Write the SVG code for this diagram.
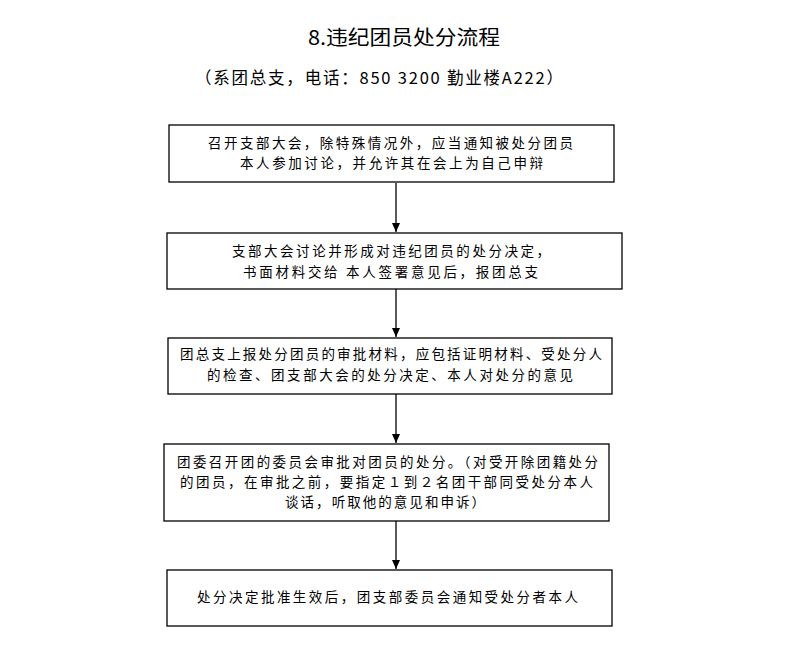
<svg xmlns="http://www.w3.org/2000/svg" width="793" height="646" viewBox="0 0 793 646">
<style>
.box{fill:#fff;stroke:#000;stroke-width:1.3}
.t{font-family:"Noto Sans CJK SC","Liberation Sans",sans-serif;font-size:13.5px;fill:#000}
.h{font-family:"Noto Sans CJK SC","Liberation Sans",sans-serif;fill:#000}
.c{stroke:#000;stroke-width:1.3;fill:none}
</style>
<defs>
<marker id="ah" markerWidth="10" markerHeight="10" refX="9" refY="4" orient="auto" markerUnits="userSpaceOnUse">
<path d="M0,0 L9,4 L0,8 Z" fill="#000"/>
</marker>
</defs>
<rect width="793" height="646" fill="#fff"/>
<g id="title">
<text class="h" x="308" y="45" font-size="20" textLength="192" lengthAdjust="spacingAndGlyphs">8.违纪团员处分流程</text>
<text class="h" x="195" y="84" font-size="16.5" textLength="368" lengthAdjust="spacing">（系团总支，电话：850 3200 勤业楼A222）</text>
</g>
<g id="connectors">
<line class="c" x1="396" y1="183" x2="396" y2="232" marker-end="url(#ah)"/>
<line class="c" x1="396" y1="289" x2="396" y2="337" marker-end="url(#ah)"/>
<line class="c" x1="396" y1="394" x2="396" y2="443" marker-end="url(#ah)"/>
<line class="c" x1="396" y1="521" x2="396" y2="569" marker-end="url(#ah)"/>
</g>
<g id="n1">
<rect class="box" x="169" y="125" width="445" height="57"/>
<text class="t" x="208" y="148" textLength="365" lengthAdjust="spacing">召开支部大会，除特殊情况外，应当通知被处分团员</text>
<text class="t" x="240" y="168" textLength="303" lengthAdjust="spacing">本人参加讨论，并允许其在会上为自己申辩</text>
</g>
<g id="n2">
<rect class="box" x="167" y="233" width="455" height="56"/>
<text class="t" x="232" y="256" textLength="318" lengthAdjust="spacing">支部大会讨论并形成对违纪团员的处分决定，</text>
<text class="t" x="243" y="277" textLength="295" lengthAdjust="spacing">书面材料交给 本人签署意见后，报团总支</text>
</g>
<g id="n3">
<rect class="box" x="168" y="338" width="444" height="56"/>
<text class="t" x="180" y="359" textLength="422" lengthAdjust="spacing">团总支上报处分团员的审批材料，应包括证明材料、受处分人</text>
<text class="t" x="207" y="380" textLength="366" lengthAdjust="spacing">的检查、团支部大会的处分决定、本人对处分的意见</text>
</g>
<g id="n4">
<rect class="box" x="164" y="444" width="445" height="77"/>
<text class="t" x="177" y="467" textLength="421" lengthAdjust="spacing">团委召开团的委员会审批对团员的处分。（对受开除团籍处分</text>
<text class="t" x="180" y="487" textLength="413" lengthAdjust="spacing">的团员，在审批之前，要指定１到２名团干部同受处分本人</text>
<text class="t" x="285" y="507" textLength="200" lengthAdjust="spacing">谈话，听取他的意见和申诉）</text>
</g>
<g id="n5">
<rect class="box" x="167" y="570" width="445" height="56"/>
<text class="t" x="197" y="602" textLength="381" lengthAdjust="spacing">处分决定批准生效后，团支部委员会通知受处分者本人</text>
</g>
</svg>
